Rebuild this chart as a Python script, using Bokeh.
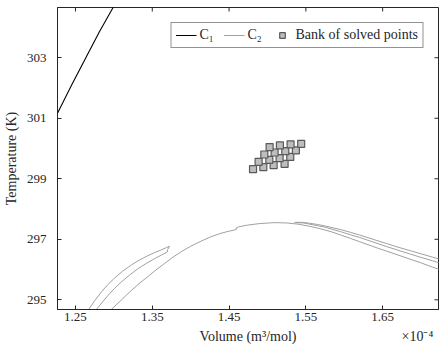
import math
from bokeh.plotting import figure
from bokeh.models import (LinearAxis, FixedTicker, PrintfTickFormatter, Range1d,
                          Legend, LegendItem)
from bokeh.embed import file_html
from bokeh.resources import INLINE

# ---- data (volume in units of 1e-4 m^3/mol, temperature in K) ----
c1_vol = [1.2200, 1.2266, 1.2450, 1.2635, 1.2810, 1.2990, 1.3100]
c1_T = [300.82, 301.165, 302.10, 303.00, 303.85, 304.66, 305.15]

loop_vol = [1.2640, 1.2673, 1.2750, 1.2838, 1.2920, 1.3010, 1.3115, 1.3227,
            1.3335, 1.3444, 1.3530, 1.3617, 1.3680, 1.3725,
            1.3700, 1.3695, 1.3620, 1.3530, 1.3420, 1.3314, 1.3205, 1.3097,
            1.3010, 1.2925, 1.2850, 1.2773, 1.2740]
loop_T = [294.57, 294.686, 294.97, 295.26, 295.50, 295.72, 295.95, 296.15,
          296.32, 296.46, 296.56, 296.65, 296.72, 296.77,
          296.66, 296.58, 296.48, 296.36, 296.20, 296.03, 295.82, 295.59,
          295.38, 295.15, 294.92, 294.686, 294.58]

arc_vol = [1.2925, 1.2968, 1.3100, 1.3227, 1.3340, 1.3444, 1.3550, 1.3660,
           1.3770, 1.3877, 1.4000, 1.4136, 1.4260, 1.4396, 1.4500, 1.4575,
           1.4598, 1.4590, 1.4625, 1.4743, 1.4900, 1.5088, 1.5250, 1.5400,
           1.5550, 1.5700, 1.5830, 1.5955, 1.6080, 1.6200, 1.6387, 1.6550,
           1.6700, 1.6850, 1.7000, 1.7150, 1.7300]
arc_T = [294.58, 294.686, 295.00, 295.31, 295.56, 295.77, 295.99, 296.20,
         296.41, 296.59, 296.77, 296.94, 297.08, 297.20, 297.27, 297.31,
         297.33, 297.37, 297.41, 297.47, 297.52, 297.55, 297.54, 297.50,
         297.43, 297.34, 297.25, 297.14, 297.03, 296.92, 296.75, 296.61,
         296.48, 296.35, 296.22, 296.08, 295.95]

brA_vol = [1.5350, 1.5450, 1.5550, 1.5650, 1.5750, 1.5955, 1.6080, 1.6200,
           1.6387, 1.6550, 1.6700, 1.6850, 1.7000, 1.7150, 1.7300]
brA_T = [297.56, 297.56, 297.53, 297.49, 297.44, 297.32, 297.23, 297.14,
         296.99, 296.86, 296.74, 296.63, 296.52, 296.41, 296.30]

brB_vol = [1.5370, 1.5470, 1.5550, 1.5650, 1.5750, 1.5955, 1.6080, 1.6200,
           1.6387, 1.6550, 1.6700, 1.6850, 1.7000, 1.7150, 1.7300]
brB_T = [297.55, 297.54, 297.50, 297.45, 297.40, 297.25, 297.15, 297.06,
         296.90, 296.76, 296.64, 296.52, 296.40, 296.29, 296.17]

bank_vol = [1.4812, 1.4946, 1.5080, 1.5223,
            1.4885, 1.5024, 1.5158, 1.5297,
            1.4959, 1.5093, 1.5232, 1.5370,
            1.5028, 1.5162, 1.5301, 1.5439]
bank_T = [299.318, 299.385, 299.451, 299.495,
          299.561, 299.627, 299.682, 299.726,
          299.803, 299.869, 299.913, 299.936,
          300.046, 300.101, 300.134, 300.156]

x_ticks = [1.25, 1.35, 1.45, 1.55, 1.65]
y_ticks = [295, 297, 299, 301, 303]
x_lim = (1.2266, 1.7227)
y_lim = (294.68, 304.66)

x_title = "Volume (m³/mol)"
x_multiplier = "×10⁻⁴"
y_title = "Temperature (K)"

FONT = "Liberation Serif"
AX = "#262626"

p = figure(width=445, height=355, output_backend="svg", toolbar_location=None,
           x_range=Range1d(*x_lim), y_range=Range1d(*y_lim),
           min_border_left=56, min_border_right=7, min_border_top=7,
           min_border_bottom=46)
p.grid.visible = False
p.outline_line_color = AX
p.background_fill_color = "white"
p.border_fill_color = "white"

def style_axis(ax):
    ax.axis_line_color = AX
    ax.major_tick_line_color = AX
    ax.major_tick_in = 4
    ax.major_tick_out = 0
    ax.minor_tick_line_color = None
    ax.major_label_text_font = FONT
    ax.major_label_text_color = AX
    ax.axis_label_text_font = FONT
    ax.axis_label_text_font_style = "normal"
    ax.axis_label_text_color = AX

xa = p.xaxis[0]
xa.ticker = FixedTicker(ticks=x_ticks)
xa.formatter = PrintfTickFormatter(format="%.2f")
style_axis(xa)
xa.major_label_text_font_size = "13px"
xa.major_label_standoff = 3

# second row below the axis: the axis title (centred) and the
# exponent multiplier (at the right end), drawn as labels of an extra axis
mid_x = round((x_lim[0] + x_lim[1]) / 2, 4)
mult_x = round(x_lim[1] - 0.0275, 4)
xb = LinearAxis(ticker=FixedTicker(ticks=[mid_x, mult_x]),
                major_label_overrides={mid_x: x_title, mult_x: x_multiplier})
style_axis(xb)
xb.axis_line_color = None
xb.major_tick_line_color = None
xb.major_tick_in = 0
xb.major_label_text_font_size = "14px"
xb.major_label_standoff = 5
p.add_layout(xb, "below")

ya = p.yaxis[0]
ya.ticker = FixedTicker(ticks=y_ticks)
style_axis(ya)
ya.major_label_text_font_size = "13px"
ya.major_label_standoff = 11
ya.axis_label = y_title
ya.axis_label_text_font_size = "14px"
ya.axis_label_standoff = 5

# inward ticks on the top and right edges of the box (clipped to the frame)
p.scatter(x_ticks, [y_lim[1]] * len(x_ticks), marker="dash", size=8,
          angle=math.pi / 2, line_color=AX, line_width=1)
p.scatter([x_lim[1]] * len(y_ticks), y_ticks, marker="dash", size=8,
          line_color=AX, line_width=1)

r1 = p.line(c1_vol, c1_T, line_color="black", line_width=1.1,
            line_join="round")
r2 = p.multi_line([loop_vol, arc_vol, brA_vol, brB_vol],
                  [loop_T, arc_T, brA_T, brB_T],
                  line_color="#a0a0a0", line_width=1.0, line_join="round")
rs = p.scatter(bank_vol, bank_T, marker="square", size=7,
               fill_color="#bdbdbd", line_color="#5a5a5a", line_width=1.2)

legend = Legend(items=[LegendItem(label="C₁", renderers=[r1]),
                       LegendItem(label="C₂", renderers=[r2]),
                       LegendItem(label="Bank of solved points", renderers=[rs])],
                orientation="horizontal", location="top_right", margin=15,
                border_line_color=AX, border_line_width=1,
                padding=4, spacing=4, glyph_width=21, glyph_height=14,
                label_standoff=3, label_text_font=FONT,
                label_text_font_size="14px", label_text_color=AX,
                background_fill_alpha=1)
p.add_layout(legend)

open("out.html", "w").write(file_html(p, INLINE))
